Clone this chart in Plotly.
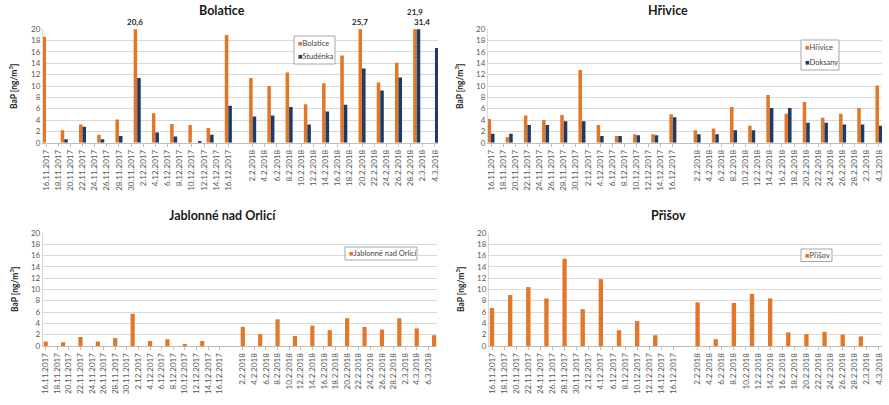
import plotly.graph_objects as go
from datetime import date, timedelta

# ---------------- data ----------------
def day_range(a, b):
    out, d = [], a
    while d <= b:
        out.append(f"{d.day}.{d.month}.{d.year}")
        d += timedelta(days=1)
    return out

GAP = " "
period1 = day_range(date(2017, 11, 16), date(2017, 12, 17))
cats_main = period1 + [GAP] + day_range(date(2018, 2, 1), date(2018, 3, 4))
cats_jab = period1 + [GAP] + day_range(date(2018, 2, 1), date(2018, 3, 7))

sample_dates = ["16.11.2017", "19.11.2017", "22.11.2017", "25.11.2017", "28.11.2017",
                "1.12.2017", "4.12.2017", "7.12.2017", "10.12.2017", "13.12.2017", "16.12.2017",
                "2.2.2018", "5.2.2018", "8.2.2018", "11.2.2018", "14.2.2018", "17.2.2018",
                "20.2.2018", "23.2.2018", "26.2.2018", "1.3.2018", "4.3.2018"]

bolatice_dates = sample_dates[:21]
bolatice_values = [18.7, 2.2, 3.2, 1.4, 4.1, 20.6, 5.2, 3.3, 3.1, 2.6, 19.0,
                   11.4, 10.0, 12.4, 6.8, 10.5, 15.4, 25.7, 10.6, 14.1, 21.9]

studenka_dates = ["19.11.2017", "22.11.2017", "25.11.2017", "28.11.2017", "1.12.2017",
                  "4.12.2017", "7.12.2017", "11.12.2017", "13.12.2017", "16.12.2017",
                  "2.2.2018", "5.2.2018", "8.2.2018", "11.2.2018", "14.2.2018", "17.2.2018",
                  "20.2.2018", "23.2.2018", "26.2.2018", "1.3.2018", "4.3.2018"]
studenka_values = [0.6, 2.8, 0.6, 1.2, 11.4, 1.8, 1.1, 0.3, 1.4, 6.5,
                   4.6, 4.8, 6.3, 3.2, 5.5, 6.7, 13.1, 9.2, 11.5, 31.4, 16.7]

hrivice_dates = sample_dates
hrivice_values = [4.2, 1.0, 4.8, 4.0, 4.9, 12.8, 3.1, 1.2, 1.5, 1.5, 5.0,
                  2.2, 2.5, 6.3, 3.0, 8.4, 5.1, 7.2, 4.4, 5.1, 6.1, 10.1]
doksany_dates = sample_dates
doksany_values = [1.6, 1.6, 3.1, 3.1, 3.8, 3.8, 1.2, 1.2, 1.3, 1.3, 4.5,
                  1.5, 1.5, 2.2, 2.2, 6.1, 6.1, 3.5, 3.5, 3.2, 3.2, 3.0]

jablonne_dates = sample_dates[:10] + sample_dates[11:] + ["7.3.2018"]
jablonne_values = [0.8, 0.65, 1.6, 0.8, 1.4, 5.7, 0.9, 1.2, 0.35, 0.9,
                   3.4, 2.1, 4.7, 1.75, 3.6, 2.8, 4.9, 3.35, 2.9, 4.9, 3.1, 1.9]

prisov_dates = sample_dates[:10] + sample_dates[11:21]
prisov_values = [6.7, 9.0, 10.4, 8.4, 15.4, 6.5, 11.8, 2.8, 4.4, 1.9,
                 7.7, 1.2, 7.6, 9.2, 8.4, 2.4, 2.1, 2.5, 2.0, 1.7]

Y_MAX = 20
Y_TITLE = "BaP [ng/m<sup>3</sup>]"

# ---------------- style ----------------
ORANGE = "#E27727"
BLUE = "#1F3A64"
GRID = "#D9D9D9"
AXIS = "#BFBFBF"
TICKC = "#595959"
FONT = "Lato"
W, H = 889, 405

def px_x(v):
    return v / W

def px_y(v):
    return 1 - v / H

fig = go.Figure()

# ---------------- traces ----------------
def add_pair(xa, ya, d1, v1, n1, d2, v2, n2):
    fig.add_trace(go.Bar(x=d1, y=v1, name=n1, marker_color=ORANGE, offset=-0.58, width=0.58,
                         xaxis=xa, yaxis=ya, showlegend=False, marker_line_width=0))
    fig.add_trace(go.Bar(x=d2, y=v2, name=n2, marker_color=BLUE, offset=0.0, width=0.58,
                         xaxis=xa, yaxis=ya, showlegend=False, marker_line_width=0))

def add_single(xa, ya, d, v, n):
    fig.add_trace(go.Bar(x=d, y=v, name=n, marker_color=ORANGE, offset=-0.36, width=0.72,
                         xaxis=xa, yaxis=ya, showlegend=False, marker_line_width=0))

add_pair("x", "y", bolatice_dates, bolatice_values, "Bolatice",
         studenka_dates, studenka_values, "Studénka")
add_pair("x2", "y2", hrivice_dates, hrivice_values, "Hřivice",
         doksany_dates, doksany_values, "Doksany")
add_single("x3", "y3", jablonne_dates, jablonne_values, "Jablonné nad Orlicí")
add_single("x4", "y4", prisov_dates, prisov_values, "Přišov")

# ---------------- axes ----------------
panels = [
    ("", cats_main, (43, 438), (29.3, 142.7)),
    ("2", cats_main, (488, 882), (29.3, 142.7)),
    ("3", cats_jab, (42.8, 437), (232.7, 346)),
    ("4", cats_main, (489, 882), (232.7, 346)),
]

layout_axes = {}
for suf, cats, (x0, x1), (yt, yb) in panels:
    shown = [c for i, c in enumerate(cats) if i % 2 == 0 and c != GAP]
    layout_axes["xaxis" + suf] = dict(
        domain=[px_x(x0), px_x(x1)], anchor="y" + suf, type="category",
        categoryorder="array", categoryarray=cats, range=[-0.5, len(cats) - 0.5],
        tickmode="array", tickvals=shown, ticktext=shown, tickangle=-90,
        tickfont=dict(size=8, color=TICKC, family=FONT), ticks="outside", ticklen=3,
        tickcolor=AXIS, showline=True, linecolor=AXIS, linewidth=1, showgrid=False,
        zeroline=False, fixedrange=True, automargin=False)
    layout_axes["yaxis" + suf] = dict(
        domain=[px_y(yb), px_y(yt)], anchor="x" + suf, range=[0, Y_MAX], dtick=2, tick0=0,
        showgrid=True, gridcolor=GRID, gridwidth=1, zeroline=False, showline=True,
        linecolor=GRID, tickfont=dict(size=8, color=TICKC, family=FONT), ticks="",
        fixedrange=True, automargin=False)

fig.update_layout(**layout_axes)

annotations = []
shapes = []

# titles
titles = [("Bolatice", 222, 10), ("Hřivice", 668, 10),
          ("Jablonné nad Orlicí", 222, 215), ("Přišov", 668, 215)]
for t, x, y in titles:
    annotations.append(dict(text=f"<b>{t}</b>", x=px_x(x), y=px_y(y), xref="paper", yref="paper",
                            showarrow=False, xanchor="center", yanchor="middle",
                            font=dict(size=12.5, color="#1A1A1A", family=FONT)))

# y-axis titles
for x, ymid in [(13, 86), (459, 86), (14, 289), (460, 289)]:
    annotations.append(dict(text=f"<b>{Y_TITLE}</b>", x=px_x(x), y=px_y(ymid), xref="paper",
                            yref="paper", showarrow=False, textangle=-90, xanchor="center",
                            yanchor="middle", font=dict(size=8.5, color="#262626", family=FONT)))

# legends (box + entries)
legends = [
    ((294, 36, 335, 64), [("Bolatice", ORANGE, 43), ("Studénka", BLUE, 57)]),
    ((801, 40, 839, 70), [("Hřivice", ORANGE, 48), ("Doksany", BLUE, 62)]),
    ((345, 247, 417, 260), [("Jablonné nad Orlicí", ORANGE, 253.5)]),
    ((801, 249, 832, 261.5), [("Přišov", ORANGE, 255.3)]),
]
for (bx0, by0, bx1, by1), items in legends:
    shapes.append(dict(type="rect", xref="paper", yref="paper", x0=px_x(bx0), x1=px_x(bx1),
                       y0=px_y(by1), y1=px_y(by0), line=dict(color="#A6A6A6", width=1),
                       fillcolor="white", layer="above"))
    for name, col, iy in items:
        annotations.append(dict(
            text=f'<span style="color:{col}">■</span>{name}', x=px_x(bx0 + 2), y=px_y(iy),
            xref="paper", yref="paper", showarrow=False, xanchor="left", yanchor="middle",
            font=dict(size=7.5, color="#404040", family=FONT)))

# data labels for bars exceeding the axis maximum
def fmt(v):
    return f"{v:.1f}".replace(".", ",")

def over_labels(xref, yref, d1, v1, d2, v2):
    over1 = {d: v for d, v in zip(d1, v1) if v > Y_MAX}
    over2 = {d: v for d, v in zip(d2, v2) if v > Y_MAX} if d2 else {}
    for d, v in over1.items():
        up = 10 if d in over2 else 0
        annotations.append(dict(text=f"<b>{fmt(v)}</b>", x=d, y=Y_MAX, xref=xref, yref=yref,
                                showarrow=False, yanchor="bottom", xshift=-2, yshift=up,
                                font=dict(size=8, color="#262626", family=FONT)))
    for d, v in over2.items():
        annotations.append(dict(text=f"<b>{fmt(v)}</b>", x=d, y=Y_MAX, xref=xref, yref=yref,
                                showarrow=False, yanchor="bottom", xshift=5, yshift=0,
                                font=dict(size=8, color="#262626", family=FONT)))

over_labels("x", "y", bolatice_dates, bolatice_values, studenka_dates, studenka_values)
over_labels("x2", "y2", hrivice_dates, hrivice_values, doksany_dates, doksany_values)
over_labels("x3", "y3", jablonne_dates, jablonne_values, None, None)
over_labels("x4", "y4", prisov_dates, prisov_values, None, None)

fig.update_layout(
    width=W, height=H, margin=dict(l=0, r=0, t=0, b=0, autoexpand=False),
    paper_bgcolor="white", plot_bgcolor="white",
    barmode="overlay", showlegend=False,
    font=dict(family=FONT, size=8, color=TICKC),
    annotations=annotations, shapes=shapes,
)

fig.write_html("out.html", config={"displayModeBar": False},
               post_script="document.body.style.margin='0px';document.body.style.padding='0px';")
